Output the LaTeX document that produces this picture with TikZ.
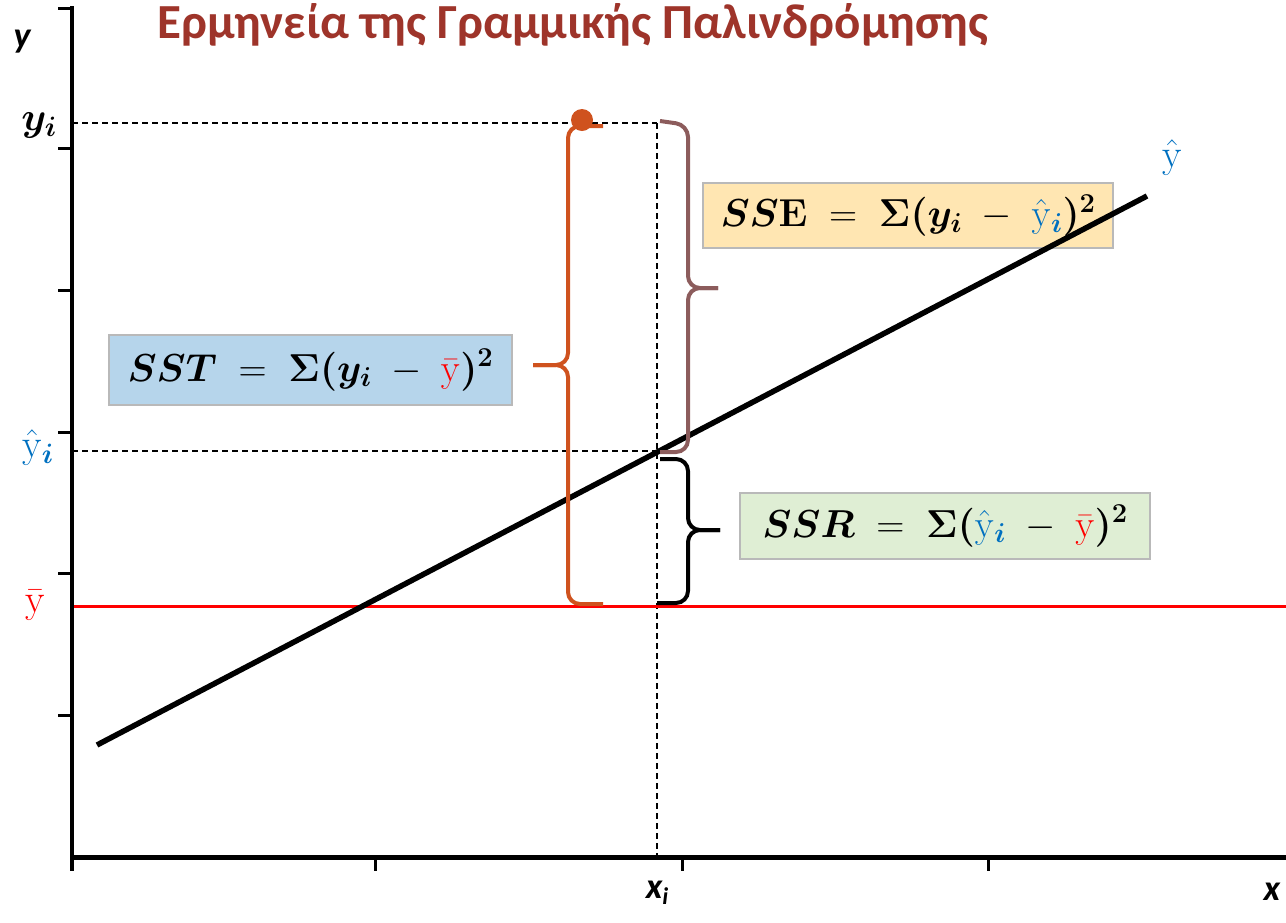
\RequirePackage{fix-cm}
\documentclass[tikz,border=0pt]{standalone}
\usepackage{amsmath}
\usepackage{bm}
\usepackage[no-math]{fontspec}
\setmainfont{Carlito}
\usetikzlibrary{positioning,calc}
\definecolor{titlered}{RGB}{158,52,42}
\definecolor{hatblue}{RGB}{0,112,192}
\definecolor{barred}{RGB}{255,0,0}
\definecolor{sstorange}{RGB}{207,82,30}
\definecolor{ssebrown}{RGB}{140,92,92}
\definecolor{sseyellow}{RGB}{255,230,178}
\definecolor{sstblue}{RGB}{182,213,235}
\definecolor{ssrgreen}{RGB}{223,238,212}
\definecolor{boxgray}{RGB}{185,185,185}
\newcommand{\hy}{\textcolor{hatblue}{\hat{\mathrm{y}}}}
\newcommand{\by}{\textcolor{barred}{\bar{\mathrm{y}}}}

\begin{document}
\begin{tikzpicture}[
    x=1pt, y=-1pt,
    every node/.style={align=center, inner sep=0pt},
    axis/.style={line width=4pt, black},
    tick/.style={line width=3pt, black},
    guide/.style={line width=1.5pt, dash pattern=on 6pt off 4pt},
    sumbox/.style={rectangle, draw=boxgray, line width=1.5pt, text centered, font=\fontsize{39}{45}\selectfont},
    curly/.style={line width=4pt, rounded corners=12pt},
    mathlabel/.style={font=\fontsize{40}{46}\selectfont},
    axlabel/.style={font=\fontsize{36}{42}\selectfont\bfseries\itshape}
]
\useasboundingbox (0,0) rectangle (1286,922);

% Reference points
\coordinate (origin) at (72,857);
\coordinate (lo) at (97,745);
\coordinate (hi) at (1147,196);
\coordinate (xi) at (657,857);
\coordinate (yi) at (657,123);
\coordinate (yhi) at (657,452);
\coordinate (ybi) at (657,606);
\coordinate (yiaxis) at (72,123);
\coordinate (yhiaxis) at (72,451);

% Guide lines
\draw[guide] (yiaxis) -- (yi);
\draw[guide] (yhiaxis) -- (657,451);
\draw[guide] (yi) -- (xi);

% Mean line
\draw[barred, line width=3pt] (72,606) -- (1286,606);

% Sum of squares boxes
\node[sumbox, fill=sstblue, minimum width=403pt, minimum height=70pt] (sst) at (310.5,370)
    {$\bm{SST}\;=\;\bm{\Sigma(y_{i}}\;-\;\by\bm{)^{2}}$};
\node[sumbox, fill=sseyellow, minimum width=410pt, minimum height=65pt] (sse) at (908,215.5)
    {$\bm{SS}\mathbf{E}\;=\;\bm{\Sigma(y_{i}}\;-\;\hy_{\textcolor{hatblue}{\bm{i}}}\bm{)^{2}}$};
\node[sumbox, fill=ssrgreen, minimum width=410pt, minimum height=66pt] (ssr) at (945,526)
    {$\bm{SSR}\;=\;\bm{\Sigma(}\hy_{\textcolor{hatblue}{\bm{i}}}\;-\;\by\bm{)^{2}}$};

% Regression line
\draw[line width=5.5pt] (lo) -- (hi);

% Braces
\draw[curly, sstorange] (603,126) -- (568,126) -- (568,365) -- (533,365);
\draw[curly, sstorange] (533,365) -- (568,365) -- (568,604) -- (603,604);
\draw[curly, ssebrown] (660,121) -- (688,125) -- (688,288) -- (718,288);
\draw[curly, ssebrown] (718,288) -- (688,288) -- (688,452) -- (660,452);
\draw[curly, black] (660,459) -- (688,459) -- (688,530) -- (720,530);
\draw[curly, black] (720,530) -- (688,530) -- (688,603) -- (657,603);
\fill[sstorange] (582,120) circle (11pt);

% Axes
\draw[axis] (72,6) -- (72,871);
\draw[axis, line width=5pt] (70,857) -- (1286,857);
\draw[tick] (58,8) -- (72,8);
\foreach \ty in {148,290,432,573,715}
    \draw[tick] (58,\ty) -- (72,\ty);
\foreach \tx in {375,682,988}
    \draw[tick] (\tx,857) -- (\tx,871);

% Labels
\node[font=\fontsize{49}{55}\selectfont\bfseries, text=titlered] (title) at (573,25)
    {Ερμηνεία της Γραμμικής Παλινδρόμησης};
\node[axlabel] (ylab) at (22,42) {y};
\node[axlabel] (xlab) at (1272,892) {x};
\node[axlabel, below=24pt of xi] (xilab) {x\raisebox{-0.35ex}{\fontsize{24}{26}\selectfont i}};
\node[mathlabel, anchor=east] (yilab) at (57,125) {$\bm{y_{i}}$};
\node[mathlabel, anchor=east] (yhilab) at (54,447) {$\hy_{\textcolor{hatblue}{\bm{i}}}$};
\node[mathlabel] (ybilab) at (35,605) {$\by$};
\node[mathlabel] (hatlab) at (1172,157) {$\hy$};

\end{tikzpicture}
\end{document}
